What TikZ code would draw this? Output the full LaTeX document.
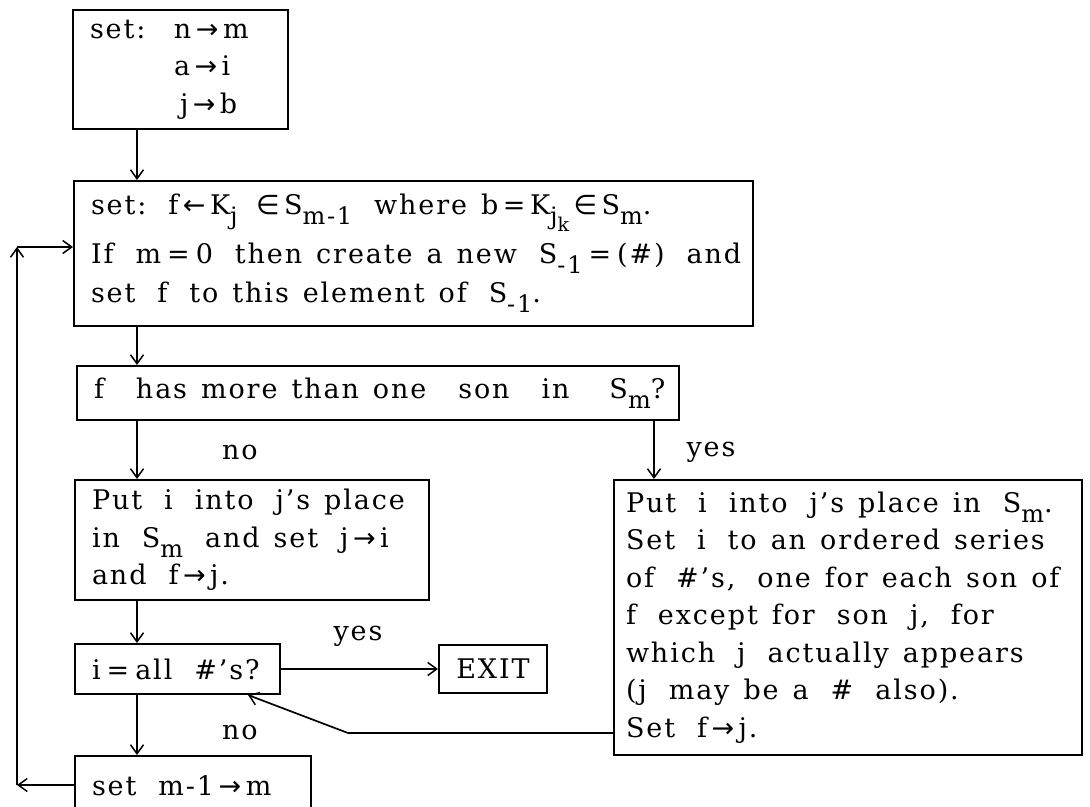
\documentclass[tikz,border=0pt]{standalone}
\usepackage{fontspec}
\setmainfont[LetterSpace=7]{DejaVu Serif}
\newfontfamily\symf{DejaVu Sans}
\usetikzlibrary{arrows.meta,calc}
\newcommand\ra{\,{\symf →}\,}
\newcommand\la{\,{\symf ←}\,}
\newcommand\elm{\,{\symf ∈}\,}
\newcommand\q{\hspace{14bp}}
\newcommand\qq{\hspace{22bp}}
\newcommand\qw{\hspace{32bp}}
\newcommand\hh{\hspace{6bp}}
\newcommand\lo[1]{\raisebox{-10bp}{\fontsize{24bp}{24bp}\selectfont #1}}
\newcommand\llo[1]{\raisebox{-7bp}{\fontsize{19bp}{19bp}\selectfont #1}}
\newcommand\bodyfont{\fontsize{27bp}{37.5bp}\selectfont}
\begin{document}
\begin{tikzpicture}[x=1bp,y=-1bp,
  box/.style={draw,line width=2bp,inner ysep=0pt,inner xsep=17bp,anchor=north west,align=left,
    font=\bodyfont},
  arr/.style={-{Straight Barb[length=9bp,width=13bp,line width=1.5bp]},line width=1.7bp},
  lbl/.style={font=\bodyfont,inner sep=0pt}]
\useasboundingbox (0,0) rectangle (1090,807);
\clip (0,0) rectangle (1090,807);
% boxes
\node[box,minimum width=215bp,minimum height=119bp,text width=181bp] (b1) at (72,9)
  {\makebox[84bp][l]{set:}n\ra m\\ \hspace*{84bp}a\ra i\\ \hspace*{90bp}j\ra b};
\node[box,minimum width=679bp,minimum height=145bp,text width=645bp] (b2) at (73,180)
  {\mbox{set:\qq f\la K\lo{j}\q\elm S\lo{m-1}\qq where\q b\,=\,K\lo{j\llo{k}}\elm S\lo{m}.}\\[10bp]
   \mbox{If\qq m\hh=\hh0\qq then\q create\q a\q new\qq S\lo{-1}\hh=\hh(\#)\qq and}\\[2bp]
   \mbox{set\qq f\qq to\q this\q element\q of\qq S\lo{-1}.}};
\node[box,minimum width=602bp,minimum height=54bp,text width=568bp] (b3) at (76,365)
  {\mbox{f\qw has\q more\q than\q one\qw son\qw in\qw\hspace{8bp}S\lo{m}?}};
\node[box,minimum width=354bp,minimum height=120bp,text width=320bp] (b4) at (74,479)
  {\mbox{Put\qq i\qq into\qq j's\q place}\\ \mbox{in\qq S\lo{m}\qq and\q set\qq j\ra i}\\ \mbox{and\qq f\ra j.}};
\node[box,minimum width=205bp,minimum height=50bp,text width=171bp] (b5) at (74,643)
  {\mbox{i\hh=\hh all\qq\#'s?}};
\node[box,minimum width=108bp,minimum height=48bp,inner xsep=0pt,align=center] (ex) at (438,644)
  {EXIT};
\node[box,minimum width=468bp,minimum height=275bp,text width=444bp,inner xsep=12bp] (b6) at (613,479)
  {\mbox{Put\qq i\qq into\qq j's\q place\q in\qq S\lo{m}.}\\
   \mbox{Set\qq i\qq to\q an\q ordered\q series}\\
   \mbox{of\qq\#'s,\qq one\q for\q each\q son\q of}\\
   \mbox{f\qq except\q for\qq son\qq j,\qq for}\\
   \mbox{which\qq j\qq actually\q appears}\\
   \mbox{(j\qq may\q be\q a\qq\#\qq also).}\\
   \mbox{Set\qq f\ra j.}};
\node[box,minimum width=236bp,minimum height=60bp,text width=202bp] (b7) at (74,755)
  {\mbox{set\qq m-1\ra m}};
% helper coordinates
\coordinate (cx) at (137,0);
\coordinate (cy) at (654,0);
\coordinate (bk) at (348,733);
\coordinate (tg) at (248,0);
\coordinate (L1) at (17,785);
\coordinate (L2) at (17,247);
% connectors
\draw[arr] (b1.south -| cx) -- (b2.north -| cx);
\draw[arr] (b2.south -| cx) -- (b3.north -| cx);
\draw[arr] (b3.south -| cx) -- (b4.north -| cx);
\draw[arr] (b3.south -| cy) -- (b6.north -| cy);
\draw[arr] (b4.south -| cx) -- (b5.north -| cx);
\draw[arr] (b5.east) -- (ex.west);
\draw[arr] (b6.west |- bk) -- (bk) -- (b5.south -| tg);
\draw[arr] (b5.south -| cx) -- (b7.north -| cx);
\draw[arr] (b7.west |- L1) -- (L1);
\draw[arr] (L1) -- (L2);
\draw[arr] (L2) -- (b2.west |- L2);
% labels
\node[lbl] (no1) at (240,452) {no};
\node[lbl] (yes1) at (711,452) {yes};
\node[lbl] (yes2) at (358,636) {yes};
\node[lbl] (no2) at (240,732) {no};
\end{tikzpicture}
\end{document}
